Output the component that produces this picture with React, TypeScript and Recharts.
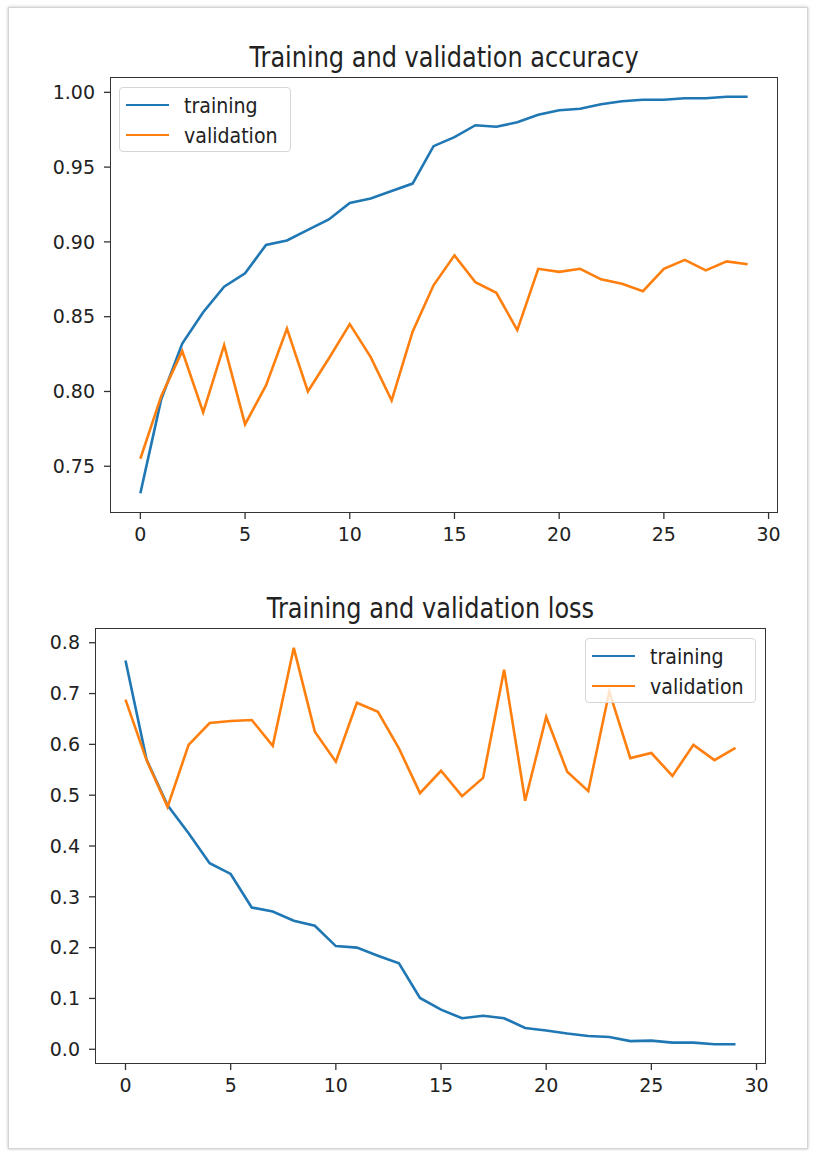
import { Line, LineChart, XAxis, YAxis } from "recharts";

const epochs = [0, 1, 2, 3, 4, 5, 6, 7, 8, 9, 10, 11, 12, 13, 14, 15, 16, 17, 18, 19, 20, 21, 22, 23, 24, 25, 26, 27, 28, 29];

const trainAcc = [0.732, 0.795, 0.832, 0.853, 0.870, 0.879, 0.898, 0.901, 0.908, 0.915, 0.926, 0.929, 0.934, 0.939, 0.964, 0.970, 0.978, 0.977, 0.980, 0.985, 0.988, 0.989, 0.992, 0.994, 0.995, 0.995, 0.996, 0.996, 0.997, 0.997];
const valAcc = [0.755, 0.797, 0.827, 0.786, 0.831, 0.778, 0.804, 0.842, 0.800, 0.822, 0.845, 0.823, 0.794, 0.840, 0.871, 0.891, 0.873, 0.866, 0.841, 0.882, 0.880, 0.882, 0.875, 0.872, 0.867, 0.882, 0.888, 0.881, 0.887, 0.885];

const trainLoss = [0.765, 0.57, 0.48, 0.425, 0.366, 0.345, 0.279, 0.271, 0.253, 0.243, 0.203, 0.200, 0.184, 0.169, 0.101, 0.078, 0.061, 0.066, 0.061, 0.042, 0.037, 0.031, 0.026, 0.024, 0.016, 0.017, 0.013, 0.013, 0.010, 0.010];
const valLoss = [0.688, 0.569, 0.477, 0.599, 0.642, 0.646, 0.648, 0.597, 0.790, 0.625, 0.566, 0.682, 0.664, 0.592, 0.504, 0.548, 0.498, 0.534, 0.747, 0.489, 0.654, 0.546, 0.508, 0.704, 0.573, 0.583, 0.538, 0.599, 0.569, 0.593];

const xTicks = [0, 5, 10, 15, 20, 25, 30];
const accTicks = [0.75, 0.8, 0.85, 0.9, 0.95, 1.0];
const lossTicks = [0, 0.1, 0.2, 0.3, 0.4, 0.5, 0.6, 0.7, 0.8];
const seriesNames = ["training", "validation"];

const BLUE = "#1f77b4";
const ORANGE = "#ff7f0e";
const FONT = "'DejaVu Sans', sans-serif";

// matplotlib-style 5% padding around the data
function padded(values: number[]): [number, number] {
  const lo = Math.min(...values);
  const hi = Math.max(...values);
  const pad = (hi - lo) * 0.05;
  return [lo - pad, hi + pad];
}

const xDomain = padded([epochs[0], epochs[epochs.length - 1]]);

interface PanelProps {
  title: string;
  top: number;
  plot: { left: number; top: number; right: number; bottom: number };
  train: number[];
  val: number[];
  yTicks: number[];
  digits: number;
  legend: { left: number; top: number; width: number };
}

function Panel({ title, top, plot, train, val, yTicks, digits, legend }: PanelProps) {
  const rows = epochs.map((e, i) => ({ epoch: e, train: train[i], val: val[i] }));
  const height = 560;
  const axisW = 60;
  const axisH = 47;
  const yDomain = padded([...train, ...val]);
  const tickStyle = { fill: "#222", fontSize: 19, fontFamily: FONT };

  return (
    <div style={{ position: "absolute", left: 0, top, width: 814, height }}>
      <div
        style={{
          position: "absolute",
          left: plot.left,
          width: plot.right - plot.left,
          top: plot.top - 32,
          textAlign: "center",
          fontFamily: FONT,
          fontSize: 24,
          lineHeight: "28px",
          color: "#222",
          transform: "scaleY(1.18)",
          transformOrigin: "50% 22px",
          whiteSpace: "nowrap",
        }}
      >
        {title}
      </div>
      <LineChart
        width={814}
        height={height}
        data={rows}
        margin={{ left: plot.left - axisW, right: 814 - plot.right, top: plot.top, bottom: height - plot.bottom - axisH }}
      >
        <XAxis
          dataKey="epoch"
          type="number"
          domain={xDomain}
          allowDataOverflow
          ticks={xTicks}
          height={axisH}
          axisLine={false}
          tickLine={{ stroke: "#333", strokeWidth: 1.3 }}
          tickSize={6}
          tickMargin={9}
          tick={tickStyle}
        />
        <YAxis
          type="number"
          domain={yDomain}
          allowDataOverflow
          ticks={yTicks}
          width={axisW}
          axisLine={false}
          tickLine={{ stroke: "#333", strokeWidth: 1.3 }}
          tickSize={6}
          tickMargin={9}
          tick={tickStyle}
          tickFormatter={(v: number) => v.toFixed(digits)}
        />
        <Line dataKey="train" stroke={BLUE} strokeWidth={2.6} dot={false} isAnimationActive={false} />
        <Line dataKey="val" stroke={ORANGE} strokeWidth={2.6} dot={false} isAnimationActive={false} />
      </LineChart>
      <div
        style={{
          position: "absolute",
          left: plot.left,
          top: plot.top,
          width: plot.right - plot.left,
          height: plot.bottom - plot.top,
          border: "1.5px solid #333",
          boxSizing: "border-box",
          pointerEvents: "none",
        }}
      />
      <div
        style={{
          position: "absolute",
          left: legend.left,
          top: legend.top,
          width: legend.width,
          height: 65,
          border: "1px solid #d6d6d6",
          borderRadius: 4,
          background: "rgba(255,255,255,0.8)",
          boxSizing: "border-box",
          fontFamily: FONT,
          fontSize: 19,
          color: "#222",
        }}
      >
        {seriesNames.map((name, i) => (
          <div key={name} style={{ position: "absolute", left: 6, top: 2 + i * 30, height: 30, display: "flex", alignItems: "center" }}>
            <span style={{ display: "inline-block", width: 43, height: 0, borderTop: `2.6px solid ${i === 0 ? BLUE : ORANGE}`, marginRight: 15 }} />
            <span style={{ transform: "scaleY(1.08)", display: "inline-block" }}>{name}</span>
          </div>
        ))}
      </div>
    </div>
  );
}

export default function App() {
  return (
    <div style={{ position: "absolute", left: 0, top: 0, width: 814, height: 1151, background: "#fff" }}>
      <div
        style={{
          position: "absolute",
          left: 8,
          top: 7,
          width: 800,
          height: 1142,
          border: "1px solid #d4d4d4",
          boxShadow: "0 0 3px rgba(0,0,0,0.25)",
          boxSizing: "border-box",
        }}
      />
      <Panel
        title="Training and validation accuracy"
        top={0}
        plot={{ left: 110, top: 77, right: 778, bottom: 513 }}
        train={trainAcc}
        val={valAcc}
        yTicks={accTicks}
        digits={2}
        legend={{ left: 119, top: 87, width: 172 }}
      />
      <Panel
        title="Training and validation loss"
        top={560}
        plot={{ left: 95, top: 68, right: 766, bottom: 504 }}
        train={trainLoss}
        val={valLoss}
        yTicks={lossTicks}
        digits={1}
        legend={{ left: 585, top: 78, width: 171 }}
      />
    </div>
  );
}
